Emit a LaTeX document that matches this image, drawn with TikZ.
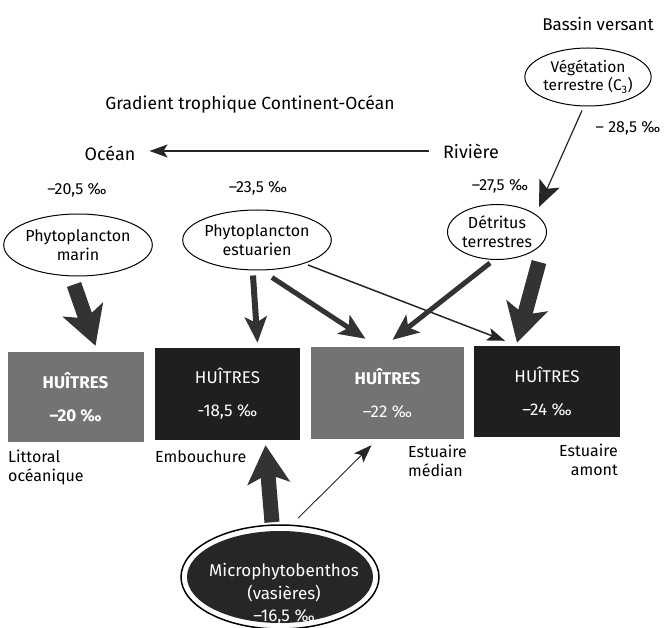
\documentclass[tikz,border=0pt]{standalone}
\usepackage{fontspec}
\setmainfont{Fira Sans}
\usetikzlibrary{arrows.meta,shapes.geometric,calc}
\begin{document}
\begin{tikzpicture}[x=1pt,y=-1pt,
  txt/.style={font=\fontsize{16}{19}\selectfont, inner sep=0pt},
  ell/.style={draw, line width=1pt, ellipse, inner sep=0pt, align=center, font=\fontsize{16}{19}\selectfont},
  box/.style={minimum width=#1, minimum height=90pt, inner sep=0pt, align=center, text=white, font=\fontsize{17}{33}\selectfont},
  grayfill/.style={fill=black!55},
  darkfill/.style={fill=black!88},
  thin arrow/.style={draw=black!85, line width=1.2pt, -{Stealth[length=18pt,width=13pt,inset=4pt]}},
  head arrow/.style={draw=black!85, line width=1.2pt, -{Stealth[length=26pt,width=22pt,inset=6pt]}},
  mid arrow/.style={draw=black!80, line width=5pt, -{Stealth[length=26pt,width=22pt,inset=6pt]}},
  big arrow/.style={draw=black!80, line width=15pt, -{Stealth[length=38pt,width=42pt,inset=9pt]}}
]
\useasboundingbox (0,0) rectangle (667,628);

% top labels
\node[txt, font=\fontsize{17}{20}\selectfont] (bassin) at (598,24) {Bassin versant};
\node[ell, minimum width=125pt, minimum height=58pt, font=\fontsize{15.5}{18}\selectfont] (veg) at (588,77) {Végétation\\terrestre (C\textsubscript{3})};
\node[txt] (p285) at (628,128) {– 28,5 ‰};
\node[txt, font=\fontsize{17.5}{21}\selectfont] (title) at (250,104) {Gradient trophique Continent-Océan};
\node[txt, font=\fontsize{18}{21}\selectfont] (ocean) at (110,153) {Océan};
\node[txt, font=\fontsize{18}{21}\selectfont] (riviere) at (471,151) {Rivière};
\draw[thin arrow] ([xshift=-14pt,yshift=0pt]riviere.west) -- ([xshift=14pt]riviere.west -| ocean.east);

\node[txt] (p205) at (77,190) {–20,5 ‰};
\node[txt] (p235) at (258,188) {–23,5 ‰};
\node[txt] (p275) at (500,186) {–27,5 ‰};

% source ellipses
\node[ell, minimum width=128pt, minimum height=62pt] (marin) at (78,245) {Phytoplancton\\marin};
\node[ell, minimum width=142pt, minimum height=60pt] (estu) at (257,240) {Phytoplancton\\estuarien};
\node[ell, minimum width=97pt, minimum height=55pt] (detr) at (497,232) {Détritus\\terrestres};

% boxes
\node[box=136pt, grayfill] (b1) at (75.5,397) {\textbf{HUÎTRES}\\\textbf{–20 ‰}};
\node[box=145pt, darkfill, minimum height=92pt] (b2) at (227.5,394) {HUÎTRES\\-18,5 ‰};
\node[box=153pt, grayfill, minimum height=92pt] (b3) at (387.5,393) {\textbf{HUÎTRES}\\–22 ‰};
\node[box=146pt, darkfill, minimum height=91pt] (b4) at (547,391.5) {HUÎTRES\\–24 ‰};

% place labels
\node[txt, align=left, anchor=north west] (l1) at (8,450) {Littoral\\océanique};
\node[txt, anchor=north west] (l2) at (155,450) {Embouchure};
\node[txt, align=left, anchor=north west] (l3) at (408,445) {Estuaire\\médian};
\node[txt, align=right, anchor=north east] (l4) at (618,444) {Estuaire\\amont};

% microphytobenthos
\node[ellipse, draw, line width=1.5pt, minimum width=198pt, minimum height=104pt, inner sep=0pt] (mpbo) at (280,577) {};
\node[ellipse, fill=black!85, minimum width=186pt, minimum height=92pt, inner sep=0pt] (mpb) at (280,577) {};
\node[txt, align=center, text=white, font=\fontsize{17}{22.5}\selectfont] (mpbt) at (284,594) {Microphytobenthos\\(vasières)\\–16,5 ‰};

% arrows
\draw[head arrow] ([xshift=-6pt,yshift=-4pt]veg.south) -- ([xshift=42pt,yshift=-3pt]detr.north);
\draw[big arrow] ([xshift=-4pt,yshift=-8pt]marin.south) -- ([xshift=20pt,yshift=6pt]b1.north);
\draw[mid arrow, line width=6pt] ([xshift=-4pt,yshift=-5pt]estu.south) -- ([xshift=30pt,yshift=5pt]b2.north);
\draw[mid arrow] ([xshift=15pt,yshift=-7pt]estu.south) -- ([xshift=-22pt,yshift=8pt]b3.north);
\draw[thin arrow, line width=1.5pt] ([xshift=51pt,yshift=-25pt]estu.center) -- ([xshift=-42pt,yshift=5pt]b4.north);
\draw[mid arrow] ([xshift=-7pt,yshift=-3pt]detr.south) -- ([xshift=5pt,yshift=7pt]b3.north);
\draw[big arrow] ([xshift=42pt,yshift=-2pt]detr.south) -- ([xshift=-30pt,yshift=3pt]b4.north);
\draw[big arrow] ([xshift=-8pt,yshift=2pt]mpbo.north) -- ([xshift=38pt,yshift=-5pt]b2.south);
\draw[thin arrow, line width=0.9pt] ([xshift=18pt,yshift=6pt]mpbo.north) -- ([xshift=-16pt,yshift=-6pt]b3.south);
\end{tikzpicture}
\end{document}
